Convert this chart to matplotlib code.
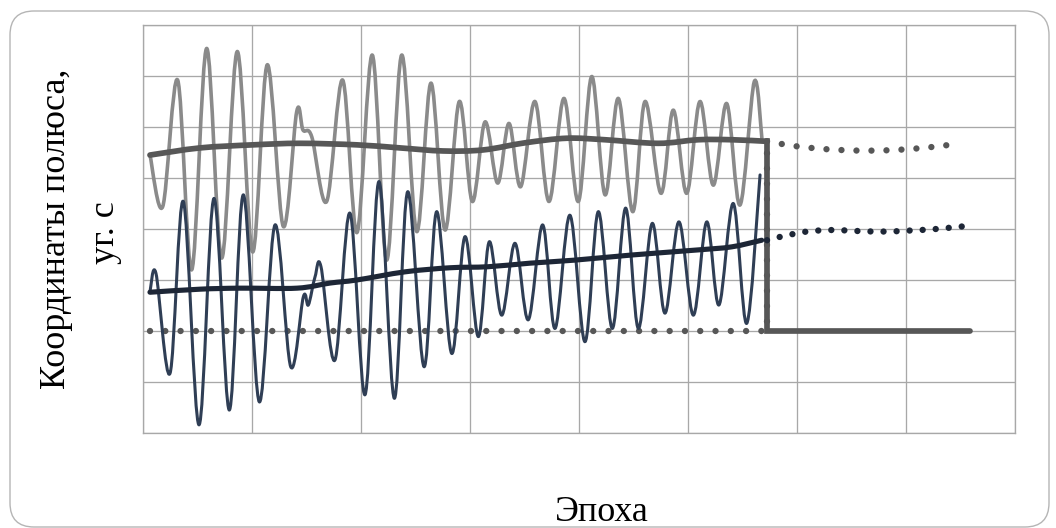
import numpy as np
import matplotlib
matplotlib.use("Agg")
import matplotlib.pyplot as plt
from matplotlib.path import Path
from matplotlib.patches import PathPatch, FancyBboxPatch
from matplotlib.transforms import IdentityTransform

# ---------------- data (axis units = grid cells) -------------
osc_gray_x = [0.064, 0.181, 0.318, 0.447, 0.584, 0.722, 0.865, 1.006, 1.140, 1.287,
              1.410, 1.468, 1.548, 1.685, 1.832, 1.963, 2.104, 2.236, 2.373, 2.511,
              2.642, 2.771, 2.902, 3.021, 3.138, 3.254, 3.358, 3.465, 3.596, 3.725,
              3.862, 3.994, 4.117, 4.239, 4.361, 4.493, 4.606, 4.752, 4.865, 4.988,
              5.110, 5.232, 5.355, 5.477, 5.608, 5.679]
osc_gray_y = [5.45, 4.44, 6.92, 3.20, 7.54, 3.43, 7.48, 3.55, 7.22, 4.05,
              6.30, 5.94, 5.81, 4.54, 6.92, 3.93, 7.41, 3.39, 7.41, 3.95,
              6.86, 3.98, 6.50, 4.54, 6.10, 4.90, 6.07, 4.83, 6.50, 4.54,
              6.56, 4.54, 6.99, 4.67, 6.56, 4.34, 6.50, 4.70, 6.33, 4.70,
              6.50, 4.86, 6.46, 4.47, 6.89, 5.75]

osc_navy_x = [0.064, 0.119, 0.248, 0.370, 0.514, 0.651, 0.792, 0.920, 1.067, 1.211,
              1.355, 1.471, 1.517, 1.578, 1.633, 1.761, 1.899, 2.037, 2.165, 2.306,
              2.428, 2.578, 2.694, 2.832, 2.954, 3.076, 3.177, 3.291, 3.413, 3.535,
              3.667, 3.780, 3.917, 4.055, 4.177, 4.306, 4.428, 4.544, 4.672, 4.789,
              4.917, 5.049, 5.172, 5.284, 5.416, 5.539, 5.661]
osc_navy_y = [2.77, 3.13, 1.17, 4.54, 0.16, 4.60, 0.45, 4.67, 0.61, 4.08,
              1.30, 2.67, 2.51, 3.06, 3.26, 1.43, 4.31, 0.75, 4.93, 0.68,
              4.73, 1.30, 4.34, 1.56, 3.85, 1.89, 3.75, 2.31, 3.72, 2.22,
              4.08, 2.05, 4.27, 1.79, 4.34, 2.05, 4.41, 2.05, 4.11, 2.35,
              4.14, 2.31, 4.14, 2.51, 4.50, 2.15, 5.06]

trend_gray_x = [0.064, 0.523, 1.009, 1.440, 1.963, 2.358, 2.752, 3.119, 3.505, 3.890,
                4.239, 4.725, 5.092, 5.404, 5.716]
trend_gray_y = [5.45, 5.59, 5.65, 5.68, 5.65, 5.59, 5.53, 5.55, 5.69, 5.78,
                5.75, 5.68, 5.75, 5.75, 5.72]

step_x = [5.716, 5.725, 5.725, 7.587]
step_y = [5.72, 5.72, 2.00, 2.00]

trend_navy_x = [0.064, 0.523, 0.890, 1.413, 1.716, 1.961, 2.404, 2.817, 3.165, 3.550,
                3.963, 4.483, 5.092, 5.401, 5.676]
trend_navy_y = [2.76, 2.82, 2.84, 2.84, 2.94, 3.00, 3.16, 3.24, 3.26, 3.33,
                3.39, 3.49, 3.59, 3.65, 3.78]

base_x = [0.064, 5.725, 5.725]
base_y = [2.00, 2.00, 5.72]

fc_gray_x = [5.725, 5.966, 6.236, 6.511, 6.777, 7.052, 7.327, 7.465]
fc_gray_y = [5.72, 5.63, 5.57, 5.54, 5.54, 5.57, 5.63, 5.67]

fc_navy_x = [5.725, 5.853, 6.089, 6.324, 6.562, 6.801, 7.037, 7.275, 7.516]
fc_navy_y = [3.78, 3.85, 3.95, 3.98, 3.96, 3.95, 3.97, 4.00, 4.05]

# ---------------- colours / styles ----------------
C_OSC_GRAY = "#8a8a8a"
C_TREND_GRAY = "#575757"
C_OSC_NAVY = "#2f3e55"
C_TREND_NAVY = "#1d2636"
C_GRID = "#a8a8a8"


def smooth_path(xs, ys):
    """Catmull-Rom spline through the points, as cubic Bezier path (like Excel smoothing)."""
    p = np.column_stack([xs, ys]).astype(float)
    n = len(p)
    verts = [p[0]]
    codes = [Path.MOVETO]
    for i in range(n - 1):
        p0 = p[i - 1] if i > 0 else p[i]
        p1 = p[i]
        p2 = p[i + 1]
        p3 = p[i + 2] if i + 2 < n else p[i + 1]
        c1 = p1 + (p2 - p0) / 6.0
        c2 = p2 - (p3 - p1) / 6.0
        verts += [c1, c2, p2]
        codes += [Path.CURVE4] * 3
    return Path(verts, codes)


def draw_smooth(ax, xs, ys, color, lw, ls="-", z=2):
    patch = PathPatch(smooth_path(xs, ys), facecolor="none", edgecolor=color,
                      linewidth=lw, linestyle=ls, capstyle="round", joinstyle="round",
                      zorder=z)
    ax.add_patch(patch)


fig = plt.figure(figsize=(10.56, 5.28), dpi=100)
fig.patch.set_facecolor("white")

# outer rounded frame
frame = FancyBboxPatch((10, 1), 1039, 516, boxstyle="round,pad=0,rounding_size=24",
                       transform=IdentityTransform(), facecolor="none",
                       edgecolor="#b5b5b5", linewidth=1.0)
fig.add_artist(frame)

ax = fig.add_axes([143 / 1056, 1 - 433 / 528, (1015 - 143) / 1056, (433 - 25) / 528])
ax.set_xlim(0, 8)
ax.set_ylim(0, 8)
ax.set_xticks(np.arange(0, 9, 1))
ax.set_yticks(np.arange(0, 9, 1))
ax.tick_params(length=0, labelbottom=False, labelleft=False)
ax.grid(True, color=C_GRID, linewidth=0.95, zorder=0)
ax.set_axisbelow(True)
for s in ax.spines.values():
    s.set_color(C_GRID)
    s.set_linewidth(0.95)

DOT_LW = 4.6
# dotted baseline (gray) and its jump
ax.plot(base_x, base_y, color=C_TREND_GRAY, linewidth=DOT_LW,
        linestyle=(0, (0.001, 11.0 / DOT_LW)), dash_capstyle="round", zorder=3)

# oscillating series
draw_smooth(ax, osc_gray_x, osc_gray_y, C_OSC_GRAY, 2.6, z=3)
draw_smooth(ax, osc_navy_x, osc_navy_y, C_OSC_NAVY, 2.2, z=4)

# trends
draw_smooth(ax, trend_gray_x, trend_gray_y, C_TREND_GRAY, 4.1, z=5)
ax.plot(step_x, step_y, color=C_TREND_GRAY, linewidth=4.1,
        solid_capstyle="round", solid_joinstyle="miter", zorder=5)
draw_smooth(ax, trend_navy_x, trend_navy_y, C_TREND_NAVY, 3.7, z=6)

# forecasts (dotted)
draw_smooth(ax, fc_gray_x, fc_gray_y, C_TREND_GRAY, DOT_LW,
            ls=(0, (0.001, 10.8 / DOT_LW)), z=5)
draw_smooth(ax, fc_navy_x, fc_navy_y, C_TREND_NAVY, DOT_LW,
            ls=(0, (0.001, 9.4 / DOT_LW)), z=6)

# texts
serif = ["Liberation Serif", "DejaVu Serif"]
fig.text(65 / 1056, 1 - 229 / 528, "Координаты полюса,", rotation=90,
         rotation_mode="anchor", ha="center", va="baseline",
         fontsize=26, family=serif, color="black")
fig.text(114 / 1056, 1 - 233 / 528, "уг. с", rotation=90,
         rotation_mode="anchor", ha="center", va="baseline",
         fontsize=26, family=serif, color="black")
fig.text(602 / 1056, 1 - 521 / 528, "Эпоха", ha="center", va="baseline",
         fontsize=26, family=serif, color="black")

fig.savefig("out.png", dpi=100)
